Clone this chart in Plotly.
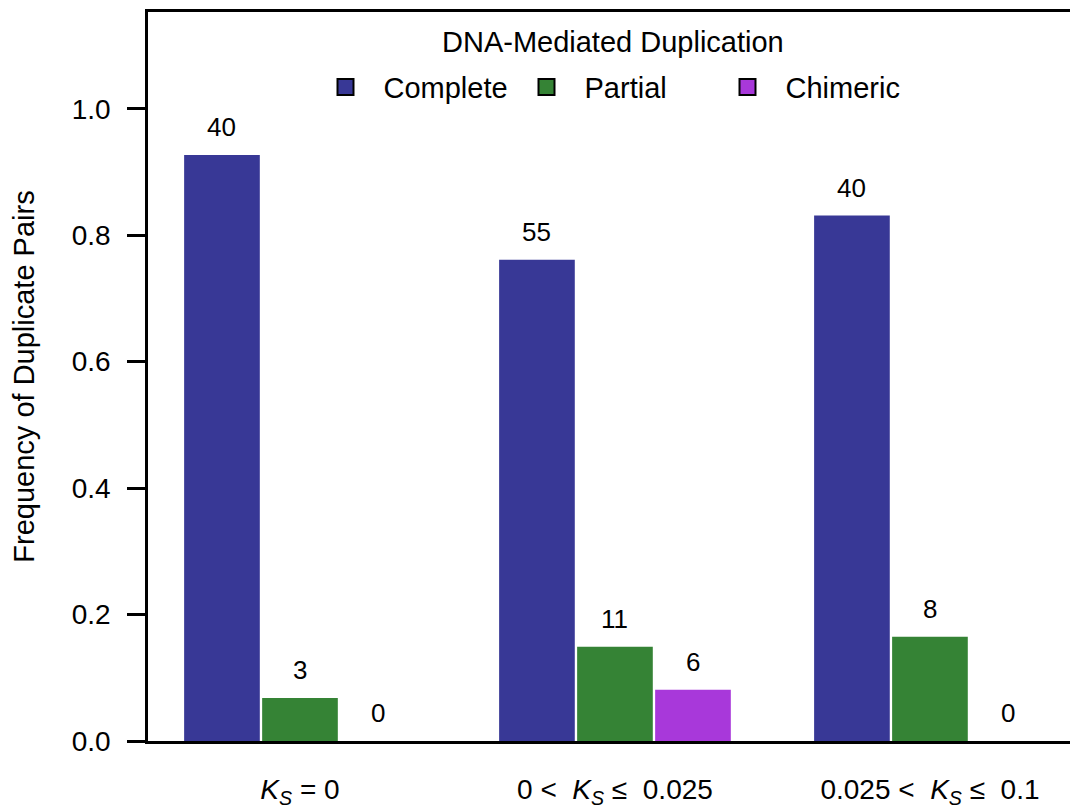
import plotly.graph_objects as go

categories = ["<i>K</i><sub><i>S</i></sub> = 0",
              "0 <  <i>K</i><sub><i>S</i></sub> ≤  0.025",
              "0.025 <  <i>K</i><sub><i>S</i></sub> ≤  0.1"]
series_names = ["Complete", "Partial", "Chimeric"]
complete_freq = [0.927, 0.761, 0.831]
partial_freq = [0.068, 0.149, 0.165]
chimeric_freq = [0.0, 0.081, 0.0]
complete_counts = ["40", "55", "40"]
partial_counts = ["3", "11", "8"]
chimeric_counts = ["0", "6", "0"]
y_ticks = [0.0, 0.2, 0.4, 0.6, 0.8, 1.0]
y_ticklabels = ["0.0", "0.2", "0.4", "0.6", "0.8", "1.0"]
legend_title = "DNA-Mediated Duplication"

colors = ["#383896", "#358335", "#A838DA"]
FONT = "Liberation Sans, Arial, sans-serif"

all_vals = [complete_freq, partial_freq, chimeric_freq]
all_counts = [complete_counts, partial_counts, chimeric_counts]
slot_px = 78  # pixel width of one bar slot within a group

fig = go.Figure()
for k, (name, vals, txt, col) in enumerate(zip(series_names, all_vals,
                                                all_counts, colors)):
    fig.add_trace(go.Bar(
        x=categories, y=vals, name=name,
        marker=dict(color=col, line=dict(width=0)),
        showlegend=False,
    ))
    # legend proxy
    fig.add_trace(go.Scatter(
        x=[None], y=[None], mode="markers", name=name,
        marker=dict(symbol="square", size=18, color=col,
                    line=dict(color="black", width=2)),
        showlegend=True,
    ))
    # count labels above bars
    for cat, v, t in zip(categories, vals, txt):
        fig.add_annotation(
            x=cat, y=v, text=t, showarrow=False,
            xshift=(k - 1) * slot_px, yshift=28, yanchor="middle",
            font=dict(size=26, color="black", family=FONT),
        )

fig.add_annotation(
    xref="paper", yref="paper", x=0.5, y=0.959, text=legend_title,
    showarrow=False, xanchor="center", yanchor="middle",
    font=dict(size=29, color="black", family=FONT),
)

fig.update_layout(
    width=1070, height=803,
    margin=dict(l=140, r=0, t=4, b=70),
    paper_bgcolor="white", plot_bgcolor="white",
    barmode="group", bargap=0.257, bargroupgap=0.03,
    font=dict(family=FONT, size=26, color="black"),
    legend=dict(
        orientation="h", x=0.4957, xanchor="center", y=0.897, yanchor="middle",
        bgcolor="rgba(0,0,0,0)",
        font=dict(size=29, family=FONT, color="black"),
        entrywidth=120, itemwidth=66, itemsizing="trace",
    ),
    xaxis=dict(
        range=[-0.4825, 2.47], showline=True, linecolor="black", linewidth=2.5,
        mirror=True, ticks="", showgrid=False, zeroline=False,
        tickfont=dict(size=28, family=FONT, color="black"),
        ticklabelstandoff=22,
    ),
    yaxis=dict(
        range=[0, 1.153], tickvals=y_ticks, ticktext=y_ticklabels,
        showline=True, linecolor="black", linewidth=2.5,
        ticks="outside", ticklen=18, tickwidth=2.5, tickcolor="black",
        showgrid=False, zeroline=False, ticklabelstandoff=11,
        tickfont=dict(size=28, family=FONT, color="black"),
        title=dict(text="Frequency of Duplicate Pairs", standoff=32,
                   font=dict(size=29, family=FONT, color="black")),
    ),
)

fig.write_html("out.html")
